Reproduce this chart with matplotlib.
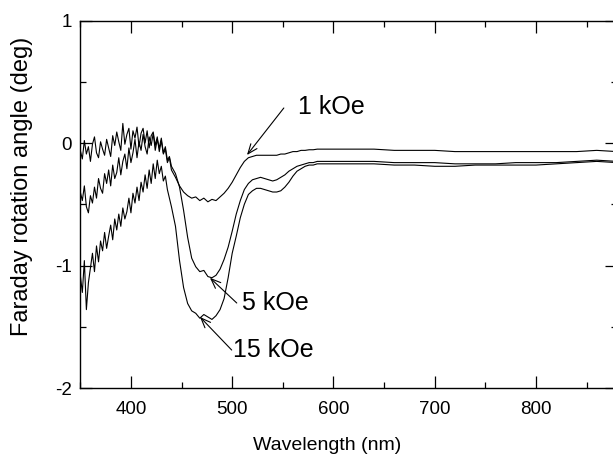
import numpy as np
import matplotlib
matplotlib.use("Agg")
import matplotlib.pyplot as plt
from matplotlib.ticker import MultipleLocator

plt.rcParams['font.family'] = ['Liberation Sans', 'DejaVu Sans']
plt.rcParams['axes.unicode_minus'] = False

# wavelength sampling (nm): fine steps in the noisy blue part, coarser further out
wavelength = np.concatenate([np.arange(350, 441, 2),
                             np.arange(444, 601, 4),
                             np.arange(620, 881, 20)])

# Faraday rotation (deg) measured at 1, 5 and 15 kOe
rot_1koe = [-0.06, -0.13, 0.02, -0.09, -0.03, -0.15, -0.01, 0.05, -0.08, -0.12,
            0.01, -0.05, -0.10, 0.03, -0.04, -0.11, 0.06, -0.02, 0.09, 0.01,
            -0.06, 0.16, -0.01, 0.07, 0.12, -0.05, 0.10, 0.04, 0.13, -0.03,
            0.08, 0.12, 0.00, 0.10, -0.04, 0.06, 0.09, -0.02, 0.05, -0.07,
            0.02, -0.09, -0.05, -0.16, -0.12, -0.22,
            -0.28, -0.35, -0.40, -0.43, -0.45, -0.44, -0.47, -0.45, -0.48, -0.46,
            -0.47, -0.44, -0.41, -0.37, -0.32, -0.26, -0.20, -0.15, -0.12, -0.11,
            -0.10, -0.10, -0.10, -0.10, -0.10, -0.10, -0.09, -0.09, -0.08, -0.07,
            -0.07, -0.06, -0.06, -0.055, -0.055, -0.05, -0.05, -0.05, -0.05, -0.05,
            -0.05, -0.05, -0.06, -0.06, -0.06, -0.07, -0.07, -0.07, -0.07, -0.07,
            -0.07, -0.07, -0.06, -0.07]

rot_5koe = [-0.40, -0.47, -0.35, -0.52, -0.57, -0.43, -0.49, -0.36, -0.45, -0.29,
            -0.37, -0.41, -0.25, -0.33, -0.22, -0.35, -0.18, -0.29, -0.24, -0.12,
            -0.26, -0.15, -0.09, -0.21, -0.04, -0.16, -0.08, 0.03, -0.12, 0.01,
            -0.06, 0.07, -0.03, -0.09, 0.05, -0.02, 0.08, -0.06, 0.03, -0.04,
            0.04, -0.08, -0.03, -0.14, -0.11, -0.19,
            -0.25, -0.36, -0.55, -0.77, -0.94, -1.01, -1.05, -1.04, -1.09, -1.10,
            -1.08, -1.03, -0.95, -0.85, -0.72, -0.58, -0.47, -0.38, -0.33, -0.30,
            -0.29, -0.28, -0.29, -0.30, -0.31, -0.30, -0.28, -0.26, -0.23, -0.21,
            -0.19, -0.18, -0.17, -0.16, -0.16, -0.15, -0.15, -0.15, -0.15, -0.15,
            -0.15, -0.15, -0.16, -0.16, -0.16, -0.17, -0.17, -0.17, -0.16, -0.16,
            -0.16, -0.15, -0.14, -0.15]

rot_15koe = [-1.08, -1.22, -0.96, -1.36, -1.14, -1.02, -0.90, -1.05, -0.84, -0.97,
             -0.80, -0.88, -0.73, -0.86, -0.76, -0.67, -0.79, -0.62, -0.71, -0.58,
             -0.68, -0.53, -0.62, -0.56, -0.45, -0.57, -0.41, -0.49, -0.36, -0.47,
             -0.32, -0.40, -0.26, -0.37, -0.22, -0.33, -0.17, -0.29, -0.14, -0.25,
             -0.19, -0.31, -0.27, -0.38, -0.45, -0.52,
             -0.68, -0.96, -1.18, -1.31, -1.37, -1.39, -1.43, -1.40, -1.42, -1.44,
             -1.41, -1.36, -1.27, -1.10, -0.90, -0.76, -0.61, -0.50, -0.42, -0.39,
             -0.37, -0.37, -0.38, -0.39, -0.40, -0.40, -0.39, -0.36, -0.32, -0.27,
             -0.23, -0.21, -0.19, -0.18, -0.18, -0.17, -0.17, -0.17, -0.17, -0.17,
             -0.17, -0.17, -0.18, -0.18, -0.19, -0.19, -0.18, -0.18, -0.18, -0.18,
             -0.17, -0.16, -0.15, -0.16]

# label text, label anchor (left/centre) and arrow tail -> tip
labels = ["1 kOe", "5 kOe", "15 kOe"]
label_pos = [(565, 0.29), (510, -1.306), (501, -1.69)]
arrow_tail = [(551, 0.286), (504.5, -1.306), (499.5, -1.69)]
arrow_tip = [(514.6, -0.098), (478, -1.10), (468.2, -1.42)]

fig = plt.figure(figsize=(6.13, 4.58), dpi=100)
ax = fig.add_axes([0.131, 0.1528, 0.8755, 0.8024])

for rot in (rot_1koe, rot_5koe, rot_15koe):
    ax.plot(wavelength, rot, color='black', lw=0.8)

for text, pos, tail, tip in zip(labels, label_pos, arrow_tail, arrow_tip):
    ax.text(pos[0], pos[1], text, fontsize=18, ha='left', va='center')
    ax.annotate('', xy=tip, xytext=tail,
                arrowprops=dict(arrowstyle='->,head_length=0.5,head_width=0.2',
                                color='black', lw=0.8, shrinkA=0, shrinkB=0,
                                mutation_scale=14))

ax.set_xlim(350, 880)
ax.set_ylim(-2, 1)
ax.xaxis.set_major_locator(MultipleLocator(100))
ax.xaxis.set_minor_locator(MultipleLocator(50))
ax.yaxis.set_major_locator(MultipleLocator(1))
ax.yaxis.set_minor_locator(MultipleLocator(0.5))
ax.tick_params(which='both', direction='in', top=True, right=True, width=0.9)
ax.tick_params(which='major', length=8.6, labelsize=13.5)
ax.tick_params(axis='x', which='major', pad=9)
ax.tick_params(axis='y', which='major', pad=6)
ax.tick_params(which='minor', length=4.3)
for s in ax.spines.values():
    s.set_linewidth(1.0)

ax.set_xlabel("Wavelength (nm)", fontsize=14)
ax.set_ylabel("Faraday rotation angle (deg)", fontsize=17)
ax.xaxis.set_label_coords(0.46, -0.133)
ax.yaxis.set_label_coords(-0.088, 0.55)

fig.savefig("out.png", dpi=100)
